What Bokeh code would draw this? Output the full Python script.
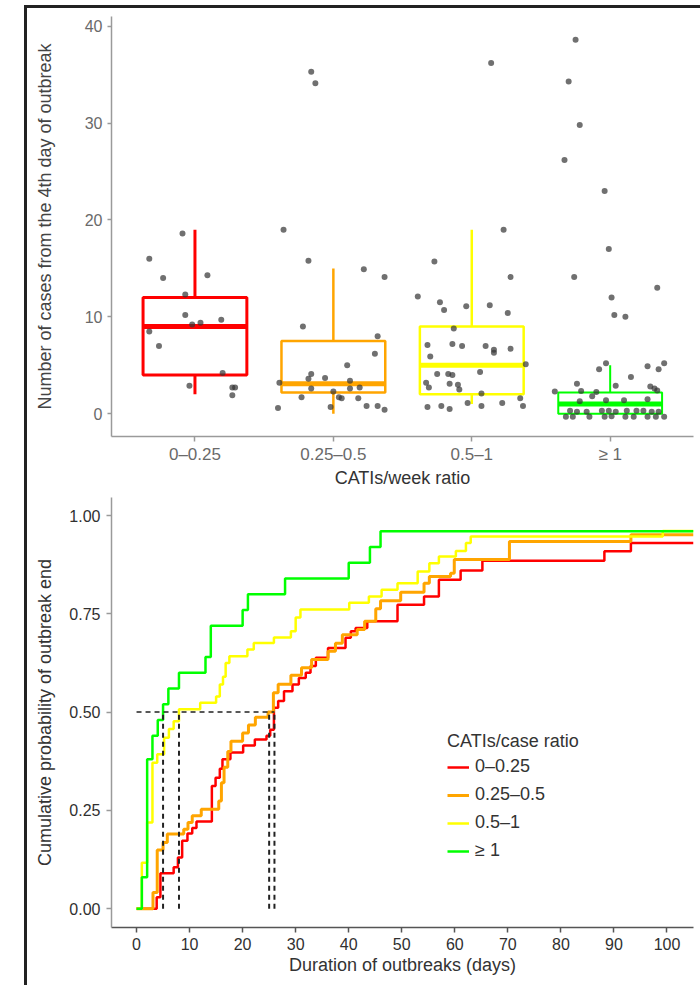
from bokeh.plotting import figure
from bokeh.models import Range1d, FixedTicker, Legend, LegendItem, PrintfTickFormatter, Div
from bokeh.layouts import row, column
from bokeh.embed import file_html
from bokeh.resources import INLINE

FONT = "Liberation Sans"

# ---------------- top panel data ----------------
groups = ["0–0.25", "0.25–0.5", "0.5–1", "≥ 1"]
colors = ["#FF0000", "#FFA500", "#FFFF00", "#00FF00"]

whisker_low = [2, 0, 1, 0]
q1 = [4, 2.2, 2, 0]
medians_cases = [9, 3.1, 5, 1]
q3 = [12, 7.5, 9, 2.2]
whisker_high = [19, 15, 19, 5]

red_jitter = [-0.09, -0.33, -0.23, 0.09, -0.07, -0.07, 0.04, 0.19, -0.33, -0.02, -0.26, 0.20, -0.04, 0.27, 0.29, 0.27]
red_cases = [18.6, 16.0, 14.0, 14.3, 12.3, 10.2, 9.4, 9.7, 8.5, 9.2, 7.0, 4.2, 2.9, 2.7, 2.7, 1.9]

orange_jitter = [-0.16, -0.13, -0.36, -0.18, 0.22, 0.37, -0.22, 0.32, 0.30, 0.10, -0.16, -0.18, -0.06, -0.39,
                 0.12, -0.16, 0.12, 0.19, 0.00, -0.23, 0.04, 0.06, 0.18, -0.40, -0.02, 0.24, 0.32, 0.37]
orange_cases = [35.3, 34.1, 19.0, 15.8, 14.9, 14.1, 9.0, 8.0, 6.2, 5.0, 4.1, 3.6, 3.7, 3.2,
                3.4, 2.6, 2.6, 2.7, 2.3, 1.7, 1.7, 1.6, 1.6, 0.6, 0.7, 0.8, 0.8, 0.4]

yellow_jitter = [0.14, 0.23, -0.27, 0.28, -0.39, -0.23, -0.20, -0.04, 0.13, 0.26, -0.13, -0.32, -0.14, -0.07,
                 0.10, 0.16, 0.16, 0.28, -0.30, 0.39, -0.25, -0.17, -0.14, 0.06, -0.33, -0.31, -0.16, -0.10,
                 -0.09, 0.07, -0.03, -0.32, -0.22, -0.16, 0.07, 0.22, 0.35, 0.37]
yellow_cases = [36.2, 19.0, 15.7, 14.1, 12.1, 11.5, 10.7, 11.1, 11.2, 10.4, 8.8, 7.1, 7.2, 7.0,
                7.0, 6.6, 6.3, 6.7, 5.9, 5.1, 4.1, 4.1, 4.0, 4.3, 3.2, 2.7, 3.1, 3.0,
                2.5, 2.1, 1.1, 0.7, 0.8, 0.5, 0.8, 1.1, 1.6, 0.8]

green_jitter = [-0.25, -0.30, -0.22, -0.33, -0.04, -0.01, -0.26, 0.34, 0.01, 0.03, 0.11,
                -0.08, -0.03, 0.27, 0.35, 0.39, 0.15, -0.24, 0.04, 0.29, 0.32, 0.34, -0.40, -0.21, -0.10,
                -0.13, -0.03, 0.10, 0.27, -0.22,
                -0.29, -0.24, -0.17, -0.06, -0.01, 0.04, 0.12, 0.19, 0.24, 0.30, 0.35,
                -0.32, -0.27, -0.15, -0.04, 0.01, 0.11, 0.17, 0.27, 0.33, 0.39]
green_cases = [38.6, 34.3, 29.8, 26.2, 23.0, 17.0, 14.1, 13.0, 12.0, 10.2, 10.0,
               4.6, 5.2, 4.9, 4.6, 5.2, 3.8, 3.1, 2.9, 2.8, 2.6, 2.4, 2.3, 2.35, 2.25,
               1.8, 1.4, 1.4, 1.5, 1.3,
               0.3, 0.2, 0.2, 0.3, 0.3, 0.2, 0.3, 0.3, 0.3, 0.2, 0.2,
               -0.3, -0.3, -0.3, -0.3, -0.25, -0.3, -0.3, -0.3, -0.3, -0.3]

jitters = [red_jitter, orange_jitter, yellow_jitter, green_jitter]
cases = [red_cases, orange_cases, yellow_cases, green_cases]

# ---------------- bottom panel data ----------------
green_days = [0, 1, 2, 3, 4, 5, 6, 8, 13, 14, 20, 21, 28, 40, 44, 46, 105]
green_prob = [0, 0.08, 0.38, 0.44, 0.48, 0.52, 0.56, 0.60, 0.64, 0.72, 0.76, 0.80, 0.84, 0.88, 0.92, 0.96, 0.96]

yellow_days = [0, 1, 2, 3, 3.9, 5.2, 6.1, 7, 8, 12, 15, 15.7, 16.3, 16.8, 17.5, 20.9, 22.1, 25.9, 29.1, 30,
               30.9, 40.1, 43.8, 46.2, 49.2, 53, 55.2, 57, 60.2, 62.1, 63, 99.2, 105]
yellow_prob = [0, 0.117, 0.219, 0.371, 0.393, 0.435, 0.457, 0.477, 0.507, 0.524, 0.54, 0.57, 0.59, 0.625, 0.642,
               0.659, 0.676, 0.69, 0.706, 0.741, 0.761, 0.778, 0.794, 0.811, 0.828, 0.858, 0.879, 0.896, 0.91,
               0.93, 0.947, 0.961, 0.961]

orange_days = [0, 3.1, 3.9, 5.0, 5.8, 8.9, 9.7, 10.5, 12.2, 15.5, 16.0, 16.5, 17.2, 17.8, 20.0, 21.1, 22.4,
               24.8, 25.8, 26.7, 29.1, 31.1, 33.0, 36.1, 37.5, 38.8, 41.6, 43.0, 45.1, 46.0, 49.8, 54.2, 55.2,
               59.2, 59.9, 70.3, 93.2, 105]
orange_prob = [0, 0.041, 0.149, 0.168, 0.190, 0.202, 0.219, 0.236, 0.253, 0.274, 0.320, 0.360, 0.400, 0.426,
               0.447, 0.467, 0.487, 0.500, 0.549, 0.571, 0.594, 0.613, 0.634, 0.655, 0.675, 0.697, 0.710, 0.731,
               0.763, 0.783, 0.805, 0.828, 0.845, 0.853, 0.888, 0.934, 0.951, 0.951]

red_days = [0, 3.8, 4.5, 7.0, 7.8, 8.6, 9.6, 10.5, 11.3, 14.2, 14.9, 15.7, 16.2, 17.7, 20.1, 22.3, 24.5,
            25.2, 25.9, 26.7, 27.8, 29.4, 30.6, 31.9, 32.8, 33.8, 36.1, 39.4, 40.4, 41.3, 43.5, 49.2, 54.2,
            57.0, 61.1, 65.2, 88.2, 93.2, 105]
red_prob = [0, 0.029, 0.090, 0.105, 0.130, 0.173, 0.191, 0.205, 0.222, 0.312, 0.333, 0.356, 0.380, 0.397,
            0.415, 0.430, 0.440, 0.455, 0.511, 0.528, 0.553, 0.570, 0.587, 0.600, 0.617, 0.638, 0.663, 0.689,
            0.706, 0.714, 0.731, 0.773, 0.794, 0.837, 0.860, 0.885, 0.909, 0.930, 0.930]

km_days = [red_days, orange_days, yellow_days, green_days]
km_prob = [red_prob, orange_prob, yellow_prob, green_prob]
median_days = [26, 25, 8, 5]

legend_labels = ["0–0.25", "0.25–0.5", "0.5–1", "≥ 1"]


def style_axes(p, tick_color, label_color):
    for ax in (p.xaxis[0], p.yaxis[0]):
        ax.major_label_text_font = FONT
        ax.axis_label_text_font = FONT
        ax.major_label_text_font_size = "16px"
        ax.axis_label_text_font_size = "18px"
        ax.axis_label_text_font_style = "normal"
        ax.axis_label_text_color = "#333333"
        ax.major_label_text_color = label_color
        ax.minor_tick_line_color = None
        ax.major_tick_in = 0
        ax.major_tick_out = 5
        ax.axis_line_color = tick_color
        ax.major_tick_line_color = tick_color
        ax.axis_line_width = 1.5
        ax.major_tick_line_width = 1.5
    p.xgrid.visible = False
    p.ygrid.visible = False
    p.outline_line_color = None


# ---------------- top figure ----------------
p1 = figure(width=673, height=482, output_backend="svg", toolbar_location=None,
            x_range=Range1d(0.397, 4.602), y_range=Range1d(-2.35, 41.0),
            min_border_left=82, min_border_right=5, min_border_top=8, min_border_bottom=50,
            background_fill_color="white", border_fill_color="white")
style_axes(p1, "#9a9a9a", "#6a6a6a")
p1.xaxis.ticker = FixedTicker(ticks=[1, 2, 3, 4])
p1.xaxis.major_label_overrides = {1: groups[0], 2: groups[1], 3: groups[2], 4: groups[3]}
p1.xaxis.major_label_text_font_size = "17px"
p1.yaxis.ticker = FixedTicker(ticks=[0, 10, 20, 30, 40])
p1.xaxis.axis_label = "CATIs/week ratio"
p1.yaxis.axis_label = "Number of cases from the 4th day of outbreak"
p1.xaxis.major_label_standoff = 3
p1.xaxis.axis_label_standoff = 1
p1.yaxis.major_tick_out = 4
p1.yaxis.major_label_standoff = 5
p1.yaxis.axis_label_standoff = 27
p1.yaxis.axis_label_text_color = "#444444"

box_w = 0.75
box_lw = [3, 2.5, 2.5, 2]
for i in range(4):
    xc = i + 1
    p1.segment(x0=[xc, xc], y0=[whisker_low[i], q3[i]], x1=[xc, xc], y1=[q1[i], whisker_high[i]],
               line_color=colors[i], line_width=box_lw[i])
    p1.quad(left=[xc - box_w / 2], right=[xc + box_w / 2], bottom=[q1[i]], top=[q3[i]],
            fill_color=None, line_color=colors[i], line_width=box_lw[i])
    p1.segment(x0=[xc - box_w / 2], x1=[xc + box_w / 2], y0=[medians_cases[i]], y1=[medians_cases[i]],
               line_color=colors[i], line_width=5)

for i in range(4):
    xs = [i + 1 + j for j in jitters[i]]
    p1.scatter(xs, cases[i], size=6, fill_color="#333333", fill_alpha=0.7, line_color=None)

# ---------------- bottom figure ----------------
p2 = figure(width=673, height=495, output_backend="svg", toolbar_location=None,
            x_range=Range1d(-4.72, 105.0), y_range=Range1d(-0.048, 1.046),
            min_border_left=84, min_border_right=7, min_border_top=7, min_border_bottom=58,
            background_fill_color="white", border_fill_color="white")
style_axes(p2, "#9a9a9a", "#303030")
p2.xaxis.axis_line_color = "#555555"
p2.xaxis.major_tick_line_color = "#555555"
p2.xaxis.ticker = FixedTicker(ticks=list(range(0, 101, 10)))
p2.yaxis.ticker = FixedTicker(ticks=[0, 0.25, 0.5, 0.75, 1.0])
p2.yaxis.formatter = PrintfTickFormatter(format="%.2f")
p2.xaxis.axis_label = "Duration of outbreaks (days)"
p2.yaxis.axis_label = "Cumulative probability of outbreak end"
p2.xaxis.major_label_standoff = 5
p2.xaxis.axis_label_standoff = 2
p2.yaxis.major_label_standoff = 6
p2.yaxis.axis_label_standoff = 11

km_lw = [2.5, 3, 2.5, 2.5]
renderers = []
for i in range(4):
    r = p2.step(km_days[i], km_prob[i], mode="after", line_color=colors[i], line_width=km_lw[i])
    renderers.append(r)

p2.segment(x0=median_days, x1=median_days, y0=[0] * 4, y1=[0.5] * 4,
           line_color="#222222", line_width=2, line_dash="5 4")
p2.segment(x0=[0], x1=[max(median_days)], y0=[0.5], y1=[0.5],
           line_color="#222222", line_width=1.5, line_dash="5 4")

legend = Legend(items=[LegendItem(label=legend_labels[i], renderers=[renderers[i]]) for i in range(4)],
                location=(336, 66), title="CATIs/case ratio")
legend.title_text_font = FONT
legend.title_text_font_size = "18px"
legend.title_text_font_style = "normal"
legend.title_text_color = "#333333"
legend.title_standoff = 4
legend.label_text_font = FONT
legend.label_text_font_size = "18px"
legend.label_text_color = "#333333"
legend.background_fill_alpha = 0
legend.border_line_color = None
legend.padding = 0
legend.margin = 0
legend.spacing = 7
legend.label_height = 20
legend.glyph_height = 20
legend.glyph_width = 22
legend.label_standoff = 6
p2.add_layout(legend, "center")

# ---------------- frame (left and top border of the original image) ----------------
top_gap = Div(text="", width=700, height=5, margin=0)
spacer = Div(text="", width=24, height=980, margin=0)
left_strip = Div(text="", width=3, height=980, margin=0, styles={"background-color": "#222222"})
top_strip = Div(text="", width=673, height=3, margin=0, styles={"background-color": "#222222"})

layout = column(top_gap,
                row(spacer, left_strip, column(top_strip, p1, p2, spacing=0), spacing=0),
                spacing=0)

open("out.html", "w").write(file_html(layout, INLINE))
